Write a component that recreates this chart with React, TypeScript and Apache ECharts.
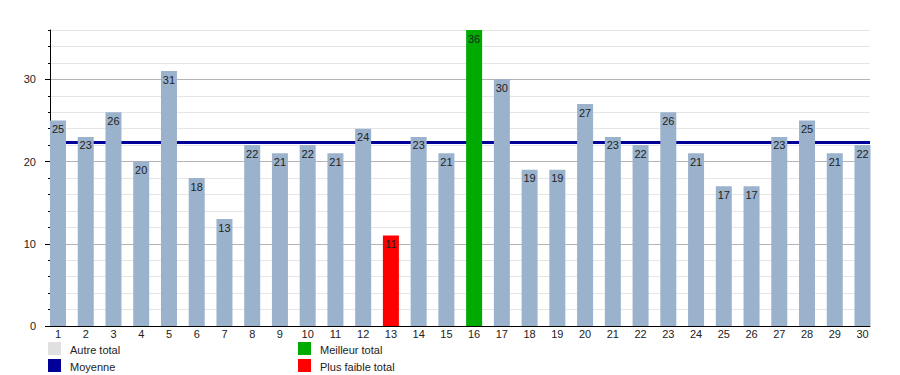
import React, { useEffect, useRef } from "react";
import * as echarts from "echarts";

const days: number[] = [
  1, 2, 3, 4, 5, 6, 7, 8, 9, 10, 11, 12, 13, 14, 15,
  16, 17, 18, 19, 20, 21, 22, 23, 24, 25, 26, 27, 28, 29, 30,
];
const totals: number[] = [
  25, 23, 26, 20, 31, 18, 13, 22, 21, 22, 21, 24, 11, 23, 21,
  36, 30, 19, 19, 27, 23, 22, 26, 21, 17, 17, 23, 25, 21, 22,
];
const yTickLabels: number[] = [0, 10, 20, 30];
const legendLabels = {
  other: "Autre total",
  average: "Moyenne",
  best: "Meilleur total",
  worst: "Plus faible total",
};

const FONT = "'Liberation Sans', Arial, Helvetica, sans-serif";
const COLOR_OTHER = "#9bb2cc";
const COLOR_BEST = "#00aa00";
const COLOR_WORST = "#ff0000";
const COLOR_AVG = "#000099";
const COLOR_LEGEND_OTHER = "#e0e0e0";

export default function App() {
  const ref = useRef<HTMLDivElement>(null);

  useEffect(() => {
    if (!ref.current) return;
    const chart = echarts.init(ref.current, undefined, { renderer: "svg" });
    const maxV = Math.max(...totals);
    const minV = Math.min(...totals);
    const average = totals.reduce((a, b) => a + b, 0) / totals.length;

    const data = days.map((d, i) => {
      const v = totals[i];
      const color = v === maxV ? COLOR_BEST : v === minV ? COLOR_WORST : COLOR_OTHER;
      return { value: [d, v], itemStyle: { color } };
    });

    const legendItem = (x: number, y: number, color: string, label: string) => [
      { type: "rect", shape: { x, y, width: 13, height: 13 }, style: { fill: color } },
      {
        type: "text",
        x: x + 22,
        y: y + 8,
        style: { text: label, fill: "#222", font: `11px ${FONT}`, verticalAlign: "middle" },
      },
    ];

    chart.setOption({
      animation: false,
      grid: { left: 50, right: 30, top: 30, bottom: 49, containLabel: false },
      xAxis: {
        type: "value",
        min: 0.7116,
        max: 30.27,
        axisLine: { show: true, onZero: false, lineStyle: { color: "#000", width: 1 } },
        axisTick: { show: false },
        splitLine: { show: false },
        axisLabel: {
          customValues: days,
          color: "#222",
          fontFamily: FONT,
          fontSize: 11,
          margin: 2,
          showMinLabel: true,
          showMaxLabel: true,
          hideOverlap: false,
        },
      },
      yAxis: [
        {
          type: "value",
          min: 0,
          max: 36,
          interval: 2,
          axisLine: { show: true, lineStyle: { color: "#000", width: 1 } },
          axisTick: { show: true, length: 2, lineStyle: { color: "#000" } },
          axisLabel: {
            customValues: yTickLabels,
            color: "#222",
            fontFamily: FONT,
            fontSize: 11,
            margin: 14,
          },
          splitLine: {
            show: true,
            lineStyle: {
              color: ["#b4b4b4", "#e6e6e6", "#e6e6e6", "#e6e6e6", "#e6e6e6"],
              width: 1,
            },
          },
        },
        {
          type: "value",
          min: 0,
          max: 36,
          position: "left",
          axisLine: { show: false },
          axisTick: { show: true, length: 5, customValues: yTickLabels, lineStyle: { color: "#000" } },
          axisLabel: { show: false },
          splitLine: { show: false },
        },
      ],
      series: [
        {
          type: "bar",
          yAxisIndex: 0,
          barWidth: 16,
          data,
          label: {
            show: true,
            position: "insideTop",
            distance: 3,
            color: "#222",
            fontFamily: FONT,
            fontSize: 11,
          },
          markLine: {
            silent: true,
            symbol: "none",
            label: { show: false },
            lineStyle: { color: COLOR_AVG, width: 3, type: "solid" },
            data: [{ yAxis: average }],
            z: 1,
          },
        },
      ],
      graphic: [
        ...legendItem(48, 342, COLOR_LEGEND_OTHER, legendLabels.other),
        ...legendItem(48, 359, COLOR_AVG, legendLabels.average),
        ...legendItem(298, 342, COLOR_BEST, legendLabels.best),
        ...legendItem(298, 359, COLOR_WORST, legendLabels.worst),
      ],
    });

    return () => chart.dispose();
  }, []);

  return (
    <div
      ref={ref}
      style={{ position: "fixed", left: 0, top: 0, width: 900, height: 375, background: "#fff" }}
    />
  );
}
